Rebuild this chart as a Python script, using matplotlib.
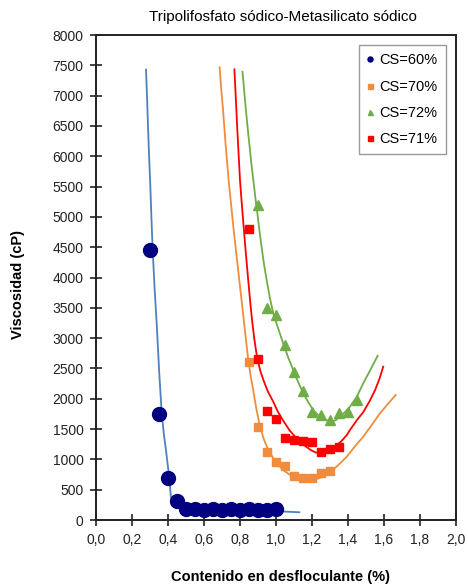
import matplotlib
matplotlib.use('Agg')
import matplotlib.pyplot as plt
from matplotlib.ticker import FuncFormatter, MultipleLocator

plt.rcParams['font.family'] = ['Liberation Sans', 'DejaVu Sans']

# measured points
x60 = [0.30, 0.35, 0.40, 0.45, 0.50, 0.55, 0.60, 0.65, 0.70, 0.75, 0.80, 0.85, 0.90, 0.95, 1.00]
y60 = [4450, 1750, 690, 320, 180, 175, 170, 175, 170, 175, 170, 175, 165, 170, 180]

x70 = [0.85, 0.90, 0.95, 1.00, 1.05, 1.10, 1.15, 1.20, 1.25, 1.30]
y70 = [2600, 1530, 1130, 950, 890, 730, 690, 690, 770, 810]

x72 = [0.90, 0.95, 1.00, 1.05, 1.10, 1.15, 1.20, 1.25, 1.30, 1.35, 1.40, 1.45]
y72 = [5200, 3500, 3380, 2890, 2440, 2130, 1780, 1740, 1650, 1760, 1780, 1980]

x71 = [0.85, 0.90, 0.95, 1.00, 1.05, 1.10, 1.15, 1.20, 1.25, 1.30, 1.35]
y71 = [4800, 2650, 1800, 1660, 1350, 1320, 1310, 1280, 1130, 1170, 1210]

# trend lines
fx60 = [0.278, 0.284, 0.289, 0.295, 0.302, 0.308, 0.315, 0.326, 0.338, 0.351, 0.365, 0.377,
        0.389, 0.398, 0.407, 0.411, 0.415, 0.42, 0.43, 0.45, 0.47, 0.55, 0.65, 0.80, 1.00, 1.13]
fy60 = [7430, 6950, 6500, 6000, 5500, 4980, 4450, 3800, 3200, 2450, 1765, 1420,
        1150, 920, 714, 560, 420, 320, 285, 265, 250, 215, 190, 168, 145, 128]

fx70 = [0.687, 0.696, 0.705, 0.72, 0.737, 0.75, 0.763, 0.777, 0.79, 0.803, 0.815, 0.83, 0.846,
        0.858, 0.87, 0.89, 0.911, 0.933, 0.957, 0.985, 1.01, 1.04, 1.075, 1.115, 1.15, 1.19,
        1.23, 1.263, 1.31, 1.356, 1.393, 1.44, 1.485, 1.53, 1.578, 1.62, 1.665]
fy70 = [7467, 7100, 6800, 6200, 5608, 5220, 4840, 4460, 4120, 3780, 3460, 3060, 2640,
        2400, 2200, 1850, 1540, 1330, 1155, 1020, 920, 825, 750, 688, 665, 660,
        680, 715, 810, 935, 1045, 1220, 1375, 1560, 1760, 1910, 2062]

fx71 = [0.769, 0.777, 0.785, 0.793, 0.80, 0.81, 0.82, 0.83, 0.84, 0.85, 0.86, 0.87, 0.88, 0.89,
        0.898, 0.913, 0.93, 0.955, 0.985, 1.01, 1.04, 1.075, 1.115, 1.15, 1.19, 1.22, 1.254,
        1.285, 1.319, 1.36, 1.393, 1.411, 1.45, 1.485, 1.52, 1.55, 1.575, 1.596]
fy71 = [7434, 6950, 6450, 6000, 5608, 5220, 4850, 4490, 4150, 3820, 3500, 3220, 2980, 2780,
        2640, 2460, 2309, 2120, 1950, 1790, 1640, 1480, 1347, 1250, 1160, 1115, 1100,
        1120, 1183, 1290, 1400, 1485, 1650, 1780, 1960, 2140, 2330, 2530]

fx72 = [0.814, 0.825, 0.835, 0.845, 0.855, 0.864, 0.874, 0.885, 0.895, 0.907, 0.92, 0.933,
        0.948, 0.965, 0.985, 1.01, 1.04, 1.068, 1.096, 1.124, 1.152, 1.18, 1.207, 1.235,
        1.263, 1.286, 1.309, 1.333, 1.356, 1.383, 1.411, 1.45, 1.485, 1.525, 1.565]
fy72 = [7395, 7020, 6700, 6400, 6120, 5860, 5608, 5330, 5100, 4800, 4508, 4230,
        3959, 3680, 3410, 3180, 2915, 2680, 2474, 2270, 2090, 1940, 1814, 1730,
        1677, 1640, 1622, 1650, 1704, 1780, 1869, 2040, 2255, 2480, 2710]

c_blue = '#000080'
c_bline = '#4f81bd'
c_orange = '#f08c3c'
c_green = '#70ad47'
c_red = '#ff0000'

fig = plt.figure(figsize=(4.68, 5.86), dpi=100)
ax = fig.add_axes([0.2051, 0.1126, 0.7692, 0.8276])

ax.plot(fx60, fy60, color=c_bline, lw=1.3, zorder=2)
ax.plot(fx70, fy70, color=c_orange, lw=1.3, zorder=2)
ax.plot(fx71, fy71, color=c_red, lw=1.3, zorder=2)
ax.plot(fx72, fy72, color=c_green, lw=1.3, zorder=2)

ax.plot(x60, y60, 'o', color=c_blue, ms=10, label='CS=60%', zorder=3)
ax.plot(x70, y70, 's', color=c_orange, ms=6, label='CS=70%', zorder=3)
ax.plot(x72, y72, '^', color=c_green, ms=6.5, label='CS=72%', zorder=3)
ax.plot(x71, y71, 's', color=c_red, ms=6, label='CS=71%', zorder=3)

ax.set_xlim(0, 2.0)
ax.set_ylim(0, 8000)
ax.xaxis.set_major_locator(MultipleLocator(0.2))
ax.yaxis.set_major_locator(MultipleLocator(500))
ax.xaxis.set_major_formatter(FuncFormatter(lambda v, p: f'{v:.1f}'.replace('.', ',')))
ax.yaxis.set_major_formatter(FuncFormatter(lambda v, p: f'{int(v)}'))
ax.tick_params(direction='inout', length=8, width=1.2, labelsize=10, colors='#222222', pad=5)

for s in ax.spines.values():
    s.set_linewidth(1.4)
    s.set_color('#222222')

leg = ax.legend(loc='upper right', bbox_to_anchor=(0.972, 0.979), fancybox=False,
                edgecolor='#999999', fontsize=10.5, handlelength=0.5,
                handletextpad=0.4, labelspacing=0.85, borderpad=0.55, borderaxespad=0,
                framealpha=1)
leg.get_frame().set_linewidth(1.0)
for h in leg.legend_handles:
    h.set_markersize(3.6)

fig.text(0.605, 0.971, 'Tripolifosfato sódico-Metasilicato sódico', ha='center', va='center', fontsize=11)
fig.text(0.600, 0.015, 'Contenido en desfloculante (%)', ha='center', va='center', fontsize=10.5, fontweight='bold')
fig.text(0.038, 0.515, 'Viscosidad (cP)', ha='center', va='center', rotation=90, fontsize=10.5, fontweight='bold')

fig.savefig('out.png', dpi=100)
